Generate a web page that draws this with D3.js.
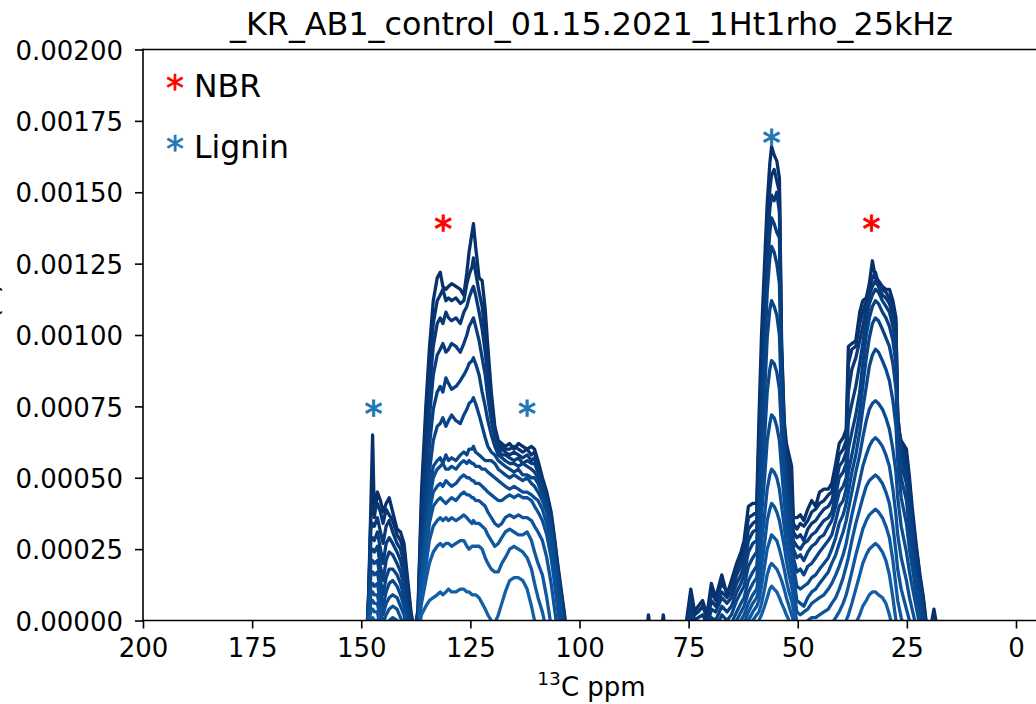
<!DOCTYPE html>
<html>
<head>
<meta charset="utf-8">
<script src="https://cdn.jsdelivr.net/npm/d3@7"></script>
<style>
  html, body { margin: 0; padding: 0; background: #fff; }
  svg { display: block; font-family: "DejaVu Sans", sans-serif; }
</style>
</head>
<body>
<svg id="chart" width="1036" height="704"></svg>
<script>
// ---- labels and ticks ----
const titleText = "_KR_AB1_control_01.15.2021_1Ht1rho_25kHz";
const yLabelText = "Area (a)";
const xTickValues = [200, 175, 150, 125, 100, 75, 50, 25, 0];
const xTickLabels = ["200", "175", "150", "125", "100", "75", "50", "25", "0"];
const yTickValues = [0, 0.00025, 0.0005, 0.00075, 0.001, 0.00125, 0.0015, 0.00175, 0.002];
const yTickLabels = ["0.00000", "0.00025", "0.00050", "0.00075", "0.00100", "0.00125", "0.00150", "0.00175", "0.00200"];

// ---- spectra: each row = [ppm, intensity of spin-lock delay 1..13], intensities in units of 1e-5 ----
const UNIT = 1e-5;
const aromaticRows = [
  [150.0, -10,-10,-10,-10,-10,-10,-10,-10,-10,-10,-10,-10,-10],
  [148.8, -8,-8,-8,-8,-8,-8,-8,-8,-8,-8,-8,-8,-8],
  [148.3, 10, 9, 8, 7, 6, 5, 4, 3, 2, 1, 0, -2, -4],
  [147.8, 40, 36, 32, 28, 24, 20, 16, 12, 9, 6, 3, 0, -3],
  [147.4, 65, 40, 34, 29, 25, 21, 17, 13, 10, 7, 4, 1, -2],
  [147.0, 36, 38, 33, 28, 24, 20, 16, 12, 9, 6, 3, 0, -3],
  [146.3, 45, 41, 36, 31, 26, 21, 17, 13, 9, 6, 3, 0, -3],
  [145.6, 42, 38, 31, 25, 19, 14, 10, 6, 3, 0, -3, -6, -8],
  [145.0, 38, 34, 27, 20, 14, 9, 5, 2, -1, -4, -7, -8, -8],
  [144.3, 41, 39, 33, 27, 21, 15, 10, 6, 2, -2, -5, -8, -8],
  [143.6, 43, 37, 35, 29, 24, 18, 13, 8, 4, 0, -3, -6, -8],
  [142.8, 38, 35, 31, 27, 23, 18, 14, 9, 5, 1, -3, -6, -8],
  [141.8, 32, 30, 27, 24, 20, 16, 12, 8, 4, 0, -4, -7, -8],
  [141.0, 31, 28, 25, 21, 17, 13, 9, 5, 1, -3, -6, -8, -8],
  [140.2, 27, 24, 20, 16, 12, 8, 5, 2, -2, -5, -8, -8, -8],
  [139.4, 15, 13, 10, 7, 4, 1, -2, -5, -8, -8, -8, -8, -8],
  [138.6, 3, 2, 0, -2, -4, -6, -8, -8, -8, -8, -8, -8, -8],
  [137.8, -4,-4,-4,-4,-4,-4,-4,-4,-4,-4,-4,-4,-4],
  [137.0, 4, 3, 2, 1, 0, -1, -2, -2, -3, -3, -3, -4, -4],
  [136.2, 45, 40, 35, 30, 26, 22, 19, 17, 15, 12, 9, 6, 2],
  [135.2, 75, 68, 60, 52, 45, 38, 32, 30, 27, 23, 19, 14, 5],
  [134.4, 95, 88, 80, 71, 61, 52, 45, 42, 38, 34, 28, 20, 7],
  [133.5, 112, 104, 96, 86, 74, 63, 54, 50, 45, 40, 33, 24, 8],
  [132.6, 120, 112, 104, 93, 80, 68, 56, 53, 47, 42, 35, 26, 9],
  [131.9, 122, 114, 106, 95, 82, 69, 57, 54, 48, 43, 36, 27, 10],
  [131.3, 117, 116, 104, 97, 80, 71, 55, 55, 47, 42, 35, 26, 9],
  [130.6, 116, 112, 108, 94, 85, 68, 58, 53, 49, 41, 36, 27, 10],
  [130.0, 117, 113, 106, 95, 83, 70, 56, 53, 48, 42, 35, 27, 11],
  [129.3, 118, 112, 105, 97, 81, 72, 57, 54, 47, 43, 36, 26, 10],
  [128.3, 117, 113, 106, 96, 82, 70, 56, 53, 48, 42, 35, 27, 10],
  [127.3, 116, 111, 104, 94, 84, 69, 58, 55, 50, 44, 36, 28, 11],
  [126.5, 114, 112, 108, 97, 86, 72, 59, 56, 51, 45, 37, 28, 11],
  [125.8, 122, 118, 110, 100, 88, 74, 58, 55, 50, 44, 36, 26, 10],
  [125.3, 129, 121, 113, 103, 90, 76, 60, 56, 50, 44, 35, 25, 10],
  [124.6, 136, 124, 116, 105, 91, 77, 60, 55, 49, 43, 34, 26, 9],
  [124.3, 139, 127, 117, 106, 92, 78, 61, 55, 49, 43, 35, 26, 9],
  [123.8, 131, 122, 114, 103, 90, 76, 59, 54, 48, 42, 34, 26, 9],
  [123.0, 120, 115, 108, 98, 86, 72, 58, 54, 48, 42, 34, 26, 8],
  [122.3, 119, 110, 102, 92, 80, 68, 57, 53, 47, 41, 33, 25, 6],
  [121.6, 109, 100, 94, 86, 75, 64, 56, 53, 46, 40, 32, 22, 4],
  [121.0, 96, 90, 85, 78, 70, 61, 56, 52, 45, 38, 30, 20, 2],
  [120.2, 80, 77, 74, 70, 65, 59, 56, 51, 44, 36, 28, 18, 0],
  [119.4, 68, 67, 66, 64, 61, 58, 55, 50, 43, 34, 26, 17, -1],
  [118.6, 63, 62, 61, 60, 58, 56, 53, 49, 42, 33, 27, 17, 2],
  [117.8, 62, 61, 60, 58, 57, 55, 52, 48, 42, 34, 29, 20, 6],
  [117.0, 61, 60, 59, 58, 56, 54, 51, 47, 43, 36, 31, 22, 10],
  [116.0, 62, 60, 58, 57, 55, 53, 50, 46, 44, 37, 32, 25, 14],
  [115.0, 60, 61, 59, 56, 55, 52, 51, 47, 43, 36, 31, 26, 15],
  [114.0, 62, 60, 58, 57, 54, 53, 50, 46, 44, 37, 30, 25, 15],
  [113.0, 61, 59, 57, 55, 55, 51, 49, 45, 43, 36, 30, 24, 14],
  [112.0, 60, 60, 58, 56, 54, 51, 50, 45, 43, 36, 31, 22, 11],
  [111.0, 61, 58, 56, 55, 53, 50, 48, 44, 42, 35, 28, 18, 5],
  [110.3, 60, 59, 57, 55, 52, 50, 47, 43, 40, 33, 24, 13, 0],
  [109.5, 56, 55, 53, 52, 50, 48, 45, 42, 38, 31, 20, 8, -4],
  [108.5, 50, 49, 48, 47, 46, 44, 42, 39, 35, 28, 16, 3, -6],
  [107.5, 45, 44, 43, 42, 41, 40, 38, 34, 30, 22, 8, -4, -10],
  [106.5, 38, 37, 36, 35, 34, 33, 31, 27, 22, 13, -2, -10, -10],
  [105.8, 30, 29, 28, 27, 26, 25, 23, 19, 14, 5, -8, -10, -10],
  [105.0, 20, 19, 18, 17, 16, 15, 13, 9, 4, -4, -10, -10, -10],
  [104.3, 12, 11, 10, 9, 8, 7, 5, 1, -4, -10, -10, -10, -10],
  [103.5, 3, 2, 1, 0, -1, -2, -4, -7, -10, -10, -10, -10, -10],
  [102.5, -10,-10,-10,-10,-10,-10,-10,-10,-10,-10,-10,-10,-10]
];

const aliphaticRows = [
  [88.0, -10,-10,-10,-10,-10,-10,-10,-10,-10,-10,-10,-10,-10],
  [84.6, -3, -6, -8, -8, -8, -8, -8, -8, -8, -8, -8, -8, -8],
  [84.2, 2, -4, -8, -8, -8, -8, -8, -8, -8, -8, -8, -8, -8],
  [83.8, -3, -6, -8, -8, -8, -8, -8, -8, -8, -8, -8, -8, -8],
  [81.2, -3, -6, -8, -8, -8, -8, -8, -8, -8, -8, -8, -8, -8],
  [80.8, 2, -4, -8, -8, -8, -8, -8, -8, -8, -8, -8, -8, -8],
  [80.4, -3, -6, -8, -8, -8, -8, -8, -8, -8, -8, -8, -8, -8],
  [76.2, -8, -8, -8, -8, -8, -8, -8, -8, -8, -8, -8, -8, -8],
  [75.3, 2, 0, -2, -4, -6, -8, -8, -8, -8, -8, -8, -8, -8],
  [74.5, 11, 9, 6, 3, 0, -3, -6, -8, -8, -8, -8, -8, -8],
  [73.6, 3, 2, 0, -2, -4, -6, -8, -8, -8, -8, -8, -8, -8],
  [72.8, 5, 3, 1, -1, -3, -5, -8, -8, -8, -8, -8, -8, -8],
  [71.8, 7, 5, 2, -1, -4, -7, -8, -8, -8, -8, -8, -8, -8],
  [70.8, 2, 1, -1, -3, -5, -8, -8, -8, -8, -8, -8, -8, -8],
  [69.8, 13, 10, 7, 4, 1, -2, -5, -8, -8, -8, -8, -8, -8],
  [68.8, 8, 7, 5, 3, 0, -3, -6, -8, -8, -8, -8, -8, -8],
  [67.4, 16, 13, 10, 8, 5, 2, -1, -4, -8, -8, -8, -8, -8],
  [66.2, 9, 10, 8, 6, 3, 0, -3, -6, -8, -8, -8, -8, -8],
  [65.2, 14, 12, 10, 8, 5, 2, -1, -4, -7, -8, -8, -8, -8],
  [64.0, 20, 18, 16, 13, 10, 7, 3, 0, -3, -6, -8, -8, -8],
  [63.0, 24, 22, 19, 16, 13, 10, 6, 3, 0, -3, -6, -8, -8],
  [62.3, 28, 25, 22, 19, 16, 12, 8, 5, 2, -1, -4, -7, -8],
  [61.3, 40, 36, 32, 28, 24, 19, 14, 10, 6, 3, 0, -3, -6],
  [60.3, 41, 37, 34, 31, 27, 22, 17, 13, 9, 6, 3, 0, -3],
  [59.4, 41, 38, 35, 32, 28, 24, 19, 15, 11, 8, 5, 2, -1],
  [58.9, 70, 62, 55, 48, 42, 35, 28, 22, 16, 11, 7, 3, 0],
  [58.3, 100, 92, 84, 76, 68, 58, 47, 37, 27, 19, 12, 6, 2],
  [57.6, 125, 116, 108, 100, 92, 79, 64, 50, 37, 27, 19, 11, 5],
  [57.0, 146, 138, 131, 123, 115, 99, 80, 63, 46, 35, 25, 16, 8],
  [56.4, 160, 151, 144, 136, 127, 109, 88, 69, 51, 39, 28, 19, 11],
  [56.0, 166, 156, 149, 141, 131, 112, 91, 72, 53, 41, 30, 20, 12],
  [55.4, 163, 158, 147, 139, 129, 110, 90, 71, 52, 40, 29, 19, 11],
  [54.8, 161, 154, 150, 136, 125, 107, 87, 68, 50, 38, 28, 18, 10],
  [54.2, 155, 150, 143, 134, 118, 100, 81, 63, 46, 35, 25, 16, 8],
  [53.7, 97, 95, 92, 88, 84, 76, 66, 53, 40, 31, 22, 14, 6],
  [53.1, 70, 68, 66, 63, 60, 56, 50, 42, 33, 26, 18, 11, 4],
  [52.6, 62, 58, 55, 52, 48, 44, 40, 34, 27, 21, 14, 8, 2],
  [52.0, 58, 53, 49, 45, 41, 37, 33, 28, 22, 16, 10, 5, 0],
  [51.4, 54, 45, 42, 38, 34, 30, 27, 22, 17, 12, 7, 2, -2],
  [51.0, 36, 34, 31, 28, 25, 22, 19, 16, 12, 8, 4, 0, -4],
  [50.2, 36, 32, 29, 26, 22, 17, 12, 7, 3, -1, -4, -7, -8],
  [49.4, 37, 34, 30, 25, 23, 18, 11, 6, 2, -2, -5, -8, -8],
  [48.6, 35, 33, 28, 27, 21, 16, 12, 5, 3, -2, -5, -8, -8],
  [47.7, 39, 35, 32, 28, 24, 19, 13, 8, 4, 0, -4, -7, -8],
  [46.8, 42, 38, 34, 30, 26, 20, 15, 10, 6, 1, -3, -6, -8],
  [45.9, 40, 39, 35, 31, 27, 22, 16, 11, 7, 1, -3, -6, -8],
  [45.0, 45, 41, 37, 33, 29, 24, 18, 13, 8, 2, -3, -6, -8],
  [44.0, 46, 42, 39, 35, 30, 26, 20, 15, 9, 3, -2, -6, -8],
  [43.0, 46, 44, 40, 36, 33, 28, 22, 17, 11, 4, -2, -6, -8],
  [42.2, 48, 45, 42, 38, 35, 30, 25, 20, 13, 6, -1, -6, -8],
  [41.3, 55, 52, 48, 44, 40, 35, 29, 23, 16, 8, 1, -5, -8],
  [40.5, 62, 58, 54, 50, 45, 40, 34, 27, 19, 11, 3, -4, -8],
  [39.6, 64, 60, 56, 52, 47, 42, 37, 31, 23, 15, 6, -2, -8],
  [38.9, 67, 63, 59, 55, 50, 46, 41, 35, 27, 19, 9, 0, -7],
  [38.4, 96, 90, 80, 70, 60, 52, 45, 39, 31, 22, 12, 2, -6],
  [37.6, 97, 95, 88, 76, 66, 58, 52, 45, 37, 28, 17, 6, -4],
  [36.7, 98, 96, 92, 82, 72, 65, 58, 52, 43, 34, 23, 11, -1],
  [35.8, 108, 104, 98, 90, 80, 73, 66, 58, 49, 39, 28, 16, 2],
  [35.1, 112, 108, 103, 97, 90, 82, 74, 64, 54, 43, 32, 20, 5],
  [34.3, 113, 112, 109, 105, 100, 92, 82, 70, 58, 47, 35, 23, 7],
  [33.6, 118, 116, 114, 111, 106, 99, 89, 74, 61, 49, 37, 25, 9],
  [32.9, 126, 120, 117, 114, 110, 104, 93, 76, 63, 50, 38, 26, 10],
  [32.2, 120, 122, 119, 116, 112, 106, 95, 77, 64, 51, 39, 27, 10],
  [31.5, 119, 118, 117, 115, 111, 105, 94, 76, 63, 50, 38, 26, 9],
  [30.6, 117, 116, 114, 112, 108, 102, 91, 74, 61, 48, 36, 24, 8],
  [29.8, 116, 115, 113, 110, 106, 99, 88, 71, 58, 45, 33, 21, 6],
  [29.0, 116, 113, 111, 108, 103, 96, 84, 67, 54, 41, 29, 16, 2],
  [28.2, 112, 110, 107, 103, 98, 90, 77, 60, 46, 33, 21, 8, -3],
  [27.5, 106, 104, 101, 96, 90, 81, 68, 52, 37, 24, 12, 0, -8],
  [27.1, 67, 70, 72, 72, 70, 65, 56, 43, 30, 18, 7, -4, -8],
  [26.3, 63, 62, 60, 58, 55, 50, 43, 33, 22, 11, 1, -8, -8],
  [25.1, 60, 58, 55, 52, 48, 42, 34, 24, 14, 4, -5, -8, -8],
  [24.4, 50, 48, 45, 42, 38, 32, 25, 17, 8, 0, -8, -8, -8],
  [23.8, 40, 38, 36, 33, 30, 25, 19, 12, 4, -4, -8, -8, -8],
  [22.9, 27, 26, 24, 22, 19, 15, 10, 5, -2, -8, -8, -8, -8],
  [22.0, 16, 15, 14, 12, 10, 7, 3, -2, -6, -8, -8, -8, -8],
  [21.3, 9, 8, 7, 5, 3, 0, -3, -6, -8, -8, -8, -8, -8],
  [20.6, 0, -1, -2, -3, -4, -6, -8, -8, -8, -8, -8, -8, -8],
  [19.6, -3, -5, -8, -8, -8, -8, -8, -8, -8, -8, -8, -8, -8],
  [18.8, 4, -4, -8, -8, -8, -8, -8, -8, -8, -8, -8, -8, -8],
  [18.0, -3, -6, -8, -8, -8, -8, -8, -8, -8, -8, -8, -8, -8],
  [16.5, -10,-10,-10,-10,-10,-10,-10,-10,-10,-10,-10,-10,-10]
];

// ---- peak assignment markers ----
const markerPpm = [131.2, 33.1, 147.2, 112.0, 56.0];
const markerLevel = [0.00133, 0.00133, 0.00068, 0.00068, 0.00163];
const markerGroup = ["NBR", "NBR", "Lignin", "Lignin", "Lignin"];
const legendLabels = ["NBR", "Lignin"];
const legendColors = ["#ff0000", "#1f77b4"];

// ---- layout ----
const svg = d3.select("#chart");
const plot = { left: 143, right: 1040, top: 49.5, bottom: 620.5 };

const x = d3.scaleLinear().domain([200, -5.5]).range([plot.left, plot.right]);
const y = d3.scaleLinear().domain([0, 0.002]).range([plot.bottom, plot.top]);

svg.append("defs").append("clipPath").attr("id", "plot-clip")
  .append("rect")
  .attr("x", plot.left).attr("y", plot.top)
  .attr("width", plot.right - plot.left).attr("height", plot.bottom - plot.top);

// ---- spectra ----
const allRows = aromaticRows.concat(aliphaticRows);
const nTraces = allRows[0].length - 1;
const traces = d3.range(nTraces).map(i => allRows.map(r => ({ ppm: r[0], v: r[i + 1] * UNIT })));

const line = d3.line()
  .x(d => x(d.ppm))
  .y(d => y(d.v));

// first delay darkest, later delays progressively lighter blue
const traceColor = i => d3.interpolateBlues(1 - i * 0.015);

svg.append("g").attr("clip-path", "url(#plot-clip)")
  .selectAll("path")
  .data(traces)
  .join("path")
  .attr("d", line)
  .attr("fill", "none")
  .attr("stroke", (d, i) => traceColor(i))
  .attr("stroke-width", 3.3)
  .attr("stroke-linejoin", "round");

// ---- axes ----
const fontSize = 26;

const xAxis = d3.axisBottom(x)
  .tickValues(xTickValues)
  .tickFormat((d, i) => xTickLabels[i])
  .tickSize(8)
  .tickPadding(10);

const gx = svg.append("g")
  .attr("transform", `translate(0,${plot.bottom})`)
  .call(xAxis);
gx.select(".domain").remove();
gx.selectAll("line").attr("stroke", "#000").attr("stroke-width", 1.6);
gx.selectAll("text").attr("font-size", fontSize).attr("fill", "#000")
  .attr("font-family", "DejaVu Sans, sans-serif");

const yAxis = d3.axisLeft(y)
  .tickValues(yTickValues)
  .tickFormat((d, i) => yTickLabels[i])
  .tickSize(8)
  .tickPadding(12);

const gy = svg.append("g")
  .attr("transform", `translate(${plot.left},0)`)
  .call(yAxis);
gy.select(".domain").remove();
gy.selectAll("line").attr("stroke", "#000").attr("stroke-width", 1.6);
gy.selectAll("text").attr("font-size", fontSize).attr("fill", "#000")
  .attr("dy", "0.37em")
  .attr("font-family", "DejaVu Sans, sans-serif");

// spines
const spines = svg.append("g").attr("stroke", "#000").attr("stroke-width", 1.6).attr("stroke-linecap", "square");
spines.append("line").attr("x1", plot.left).attr("x2", plot.right).attr("y1", plot.top).attr("y2", plot.top);
spines.append("line").attr("x1", plot.left).attr("x2", plot.right).attr("y1", plot.bottom).attr("y2", plot.bottom);
spines.append("line").attr("x1", plot.left).attr("x2", plot.left).attr("y1", plot.top).attr("y2", plot.bottom);
spines.append("line").attr("x1", plot.right).attr("x2", plot.right).attr("y1", plot.top).attr("y2", plot.bottom);

// ---- title and axis labels ----
const midX = (plot.left + plot.right) / 2;
svg.append("text")
  .attr("x", midX).attr("y", 35)
  .attr("text-anchor", "middle")
  .attr("font-size", 31.8)
  .text(titleText);

const xl = svg.append("text")
  .attr("x", midX).attr("y", 696)
  .attr("text-anchor", "middle")
  .attr("font-size", fontSize);
xl.append("tspan").attr("font-size", 18.5).attr("dy", -11).text("13");
xl.append("tspan").attr("dy", 11).text("C ppm");

// y label sits mostly past the left edge of the figure
svg.append("text")
  .attr("transform", `translate(-2.5,${(plot.top + plot.bottom) / 2}) rotate(-90)`)
  .attr("text-anchor", "middle")
  .attr("font-size", fontSize)
  .text(yLabelText);

// ---- peak markers ----
const groupColor = g => legendColors[legendLabels.indexOf(g)];
svg.append("g").selectAll("text")
  .data(markerPpm)
  .join("text")
  .attr("x", d => x(d))
  .attr("y", (d, i) => y(markerLevel[i]))
  .attr("text-anchor", "middle")
  .attr("font-size", 36)
  .attr("fill", (d, i) => groupColor(markerGroup[i]))
  .attr("stroke", (d, i) => groupColor(markerGroup[i]))
  .attr("stroke-width", 1)
  .text("*");

// ---- legend ----
const legend = svg.append("g");
legendLabels.forEach((lab, i) => {
  legend.append("text")
    .attr("x", 175).attr("y", 100 + i * 61)
    .attr("text-anchor", "middle")
    .attr("font-size", 36)
    .attr("fill", legendColors[i])
    .attr("stroke", legendColors[i])
    .attr("stroke-width", 0.6)
    .text("*");
  legend.append("text")
    .attr("x", 194).attr("y", 97 + i * 61)
    .attr("font-size", 31.5)
    .attr("fill", "#000")
    .text(lab);
});
</script>
</body>
</html>
